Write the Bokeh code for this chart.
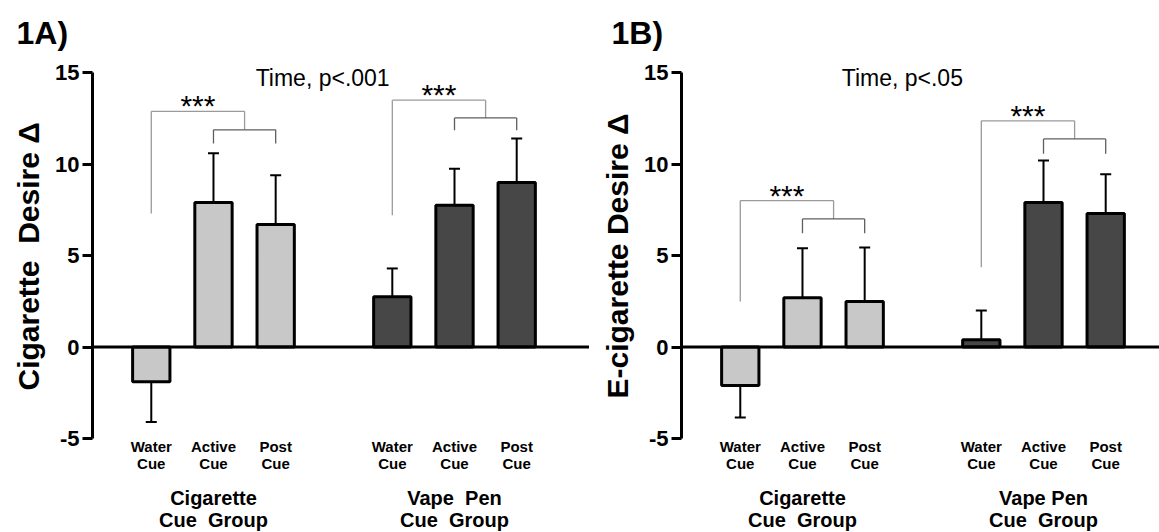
import numpy as np
from bokeh.plotting import figure
from bokeh.models import Range1d, FixedTicker, Span, Whisker, TeeHead, ColumnDataSource, Title
from bokeh.layouts import row
from bokeh.embed import file_html
from bokeh.resources import INLINE
from bokeh.core.properties import value

NB = "\u00a0 "  # widened gap, as in the reference labels

# ---------------- data ----------------
conditions = ["Water\nCue", "Active\nCue", "Post\nCue"]
groups_A = ["Cigarette\nCue" + NB + "Group", "Vape" + NB + "Pen\nCue" + NB + "Group"]
groups_B = ["Cigarette\nCue" + NB + "Group", "Vape Pen\nCue" + NB + "Group"]

# order: cigarette group (water, active, post), vape pen group (water, active, post)
a_mean = [-1.9, 7.9, 6.7, 2.75, 7.75, 9.0]
a_sem = [2.2, 2.7, 2.7, 1.55, 2.0, 2.4]
b_mean = [-2.1, 2.7, 2.5, 0.4, 7.9, 7.3]
b_sem = [1.75, 2.7, 2.95, 1.6, 2.3, 2.15]

y_ticks = [-5, 0, 5, 10, 15]
y_tick_labels = ["-5", "0", "5", "10", "15"]

titles = ["1A)", "1B)"]
y_labels = ["Cigarette" + NB + "Desire \u0394", "E-cigarette Desire \u0394"]
time_notes = ["Time, p<.001", "Time, p<.05"]
stars = "***"

# bracket heights per group: [outer bar, inner bar, left leg end, inner legs end]
brackets_A = [[12.89, 11.88, 7.30, 11.13], [13.50, 12.53, 7.21, 11.85]]
brackets_B = [[8.01, 7.01, 2.49, 6.23], [12.37, 11.38, 4.36, 10.57]]

# ---------------- style / layout ----------------
FONT = "Liberation Sans"
LIGHT = "#c8c8c8"
DARK = "#474747"
GROUP_BASE = [0.945, 4.82]
BAR_W = 0.6
H = 532
TOP = 50
PX_PER_UNIT = 18.29
ZERO_Y = 346.6
Y_RANGE = ((ZERO_Y - H) / PX_PER_UNIT, (ZERO_Y - TOP) / PX_PER_UNIT)


def txt(p, x, y, t, size, bold=True):
    p.text(x=x, y=y, text=t, text_font=value(FONT),
           text_font_style="bold" if bold else "normal", text_font_size=size,
           text_align="center", text_baseline="middle", text_color="black")


def build_panel(means, sems, groups, brackets, title, ylabel, ylabel_off, note,
                note_x, width, x_end, title_off):
    p = figure(width=width, height=H, x_range=Range1d(0, x_end),
               y_range=Range1d(*Y_RANGE), x_axis_location=None,
               toolbar_location=None, output_backend="svg",
               min_border_left=92, min_border_right=0, min_border_top=TOP,
               min_border_bottom=0)
    p.outline_line_color = None
    p.grid.visible = False
    p.background_fill_color = "white"
    p.border_fill_color = "white"

    p.title.text = title
    p.title.align = "left"
    p.title.offset = title_off
    p.title.standoff = 0
    p.title.text_font = FONT
    p.title.text_font_style = "bold"
    p.title.text_font_size = "32px"
    p.title.text_color = "black"

    ax = p.yaxis[0]
    ax.bounds = (-5, 15)
    ax.ticker = FixedTicker(ticks=y_ticks)
    ax.major_label_overrides = dict(zip(y_ticks, y_tick_labels))
    ax.minor_tick_line_color = None
    ax.major_tick_out = 10
    ax.major_tick_in = 0
    ax.axis_line_width = 3
    ax.major_tick_line_width = 3
    ax.axis_line_color = "black"
    ax.major_tick_line_color = "black"
    ax.major_label_text_font = FONT
    ax.major_label_text_font_style = "bold"
    ax.major_label_text_font_size = "22px"
    ax.major_label_text_color = "black"
    ax.major_label_standoff = 3

    # y-axis title placed along the axis span
    p.add_layout(Title(text=ylabel, align="left", offset=ylabel_off, standoff=16,
                       text_font=FONT, text_font_style="bold",
                       text_font_size="30px", text_color="black"), "left")

    xs, colors = [], []
    for gi, base in enumerate(GROUP_BASE):
        for ci in range(len(conditions)):
            xs.append(base + ci)
            colors.append(LIGHT if gi == 0 else DARK)
    m = np.array(means, dtype=float)
    s = np.array(sems, dtype=float)

    src = ColumnDataSource(dict(x=xs, top=m, color=colors))
    p.vbar(x="x", top="top", bottom=0, width=BAR_W, source=src,
           fill_color="color", line_color="black", line_width=3)

    # one-sided error bars
    pos = m >= 0
    up_src = ColumnDataSource(dict(x=np.array(xs)[pos], lo=m[pos], hi=(m + s)[pos]))
    dn_src = ColumnDataSource(dict(x=np.array(xs)[~pos], lo=(m - s)[~pos], hi=m[~pos]))
    p.add_layout(Whisker(source=up_src, base="x", lower="lo", upper="hi",
                         line_width=2, line_color="black",
                         upper_head=TeeHead(size=11, line_width=2, line_color="black"),
                         lower_head=None, level="underlay"))
    p.add_layout(Whisker(source=dn_src, base="x", lower="lo", upper="hi",
                         line_width=2, line_color="black",
                         lower_head=TeeHead(size=11, line_width=2, line_color="black"),
                         upper_head=None, level="underlay"))

    p.add_layout(Span(location=0, dimension="width", line_color="black", line_width=3))

    # significance brackets
    ox0, ox1, oy0, oy1 = [], [], [], []
    ix0, ix1, iy0, iy1 = [], [], [], []
    sx, sy = [], []
    for base, (outer, inner, leg, ileg) in zip(GROUP_BASE, brackets):
        mid = base + 1.5
        ox0 += [base, base, mid]
        ox1 += [mid, base, mid]
        oy0 += [outer, outer, outer]
        oy1 += [outer, leg, inner]
        ix0 += [base + 1, base + 1, base + 2]
        ix1 += [base + 2, base + 1, base + 2]
        iy0 += [inner, inner, inner]
        iy1 += [inner, ileg, ileg]
        sx.append(base + 0.75)
        sy.append(outer + 0.3)
    p.segment(x0=ox0, y0=oy0, x1=ox1, y1=oy1, line_color="#9a9a9a", line_width=1.3)
    p.segment(x0=ix0, y0=iy0, x1=ix1, y1=iy1, line_color="#5e5e5e", line_width=1.3)
    txt(p, sx, sy, [stars] * len(sx), "30px", bold=False)

    # note
    txt(p, [note_x], [14.69], [note], "23px", bold=False)

    # category labels (two lines)
    l1 = [c.split("\n")[0] for c in conditions] * len(GROUP_BASE)
    l2 = [c.split("\n")[1] for c in conditions] * len(GROUP_BASE)
    txt(p, xs, [-5.45] * len(xs), l1, "15px")
    txt(p, xs, [-6.36] * len(xs), l2, "15px")

    # group labels (two lines)
    gx = [b + 1 for b in GROUP_BASE]
    g1 = [g.split("\n")[0] for g in groups]
    g2 = [g.split("\n")[1] for g in groups]
    txt(p, gx, [-8.27] * 2, g1, "20px")
    txt(p, gx, [-9.44] * 2, g2, "20px")
    return p


pA = build_panel(a_mean, a_sem, groups_A, brackets_A, titles[0], y_labels[0], 142,
                 time_notes[0], 3.70, 589, 497 / 62.2, -76)
pB = build_panel(b_mean, b_sem, groups_B, brackets_B, titles[1], y_labels[1], 134,
                 time_notes[1], 3.55, 570, 478 / 62.2, -70)

layout = row(pA, pB)
open("out.html", "w").write(file_html(layout, INLINE))
